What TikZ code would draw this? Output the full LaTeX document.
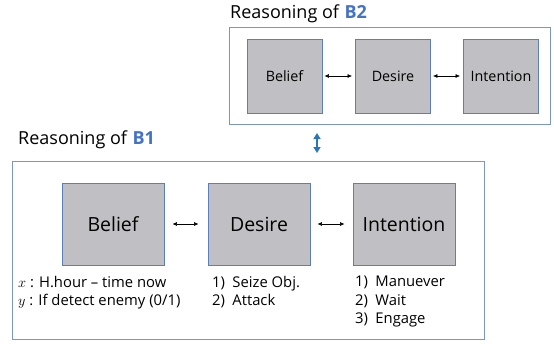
\documentclass[tikz,border=0pt]{standalone}
\usepackage{fontspec}
\setmainfont{Open Sans}
\usetikzlibrary{arrows.meta}
\definecolor{boxfill}{HTML}{BFBFC4}
\definecolor{boxline}{HTML}{5B7FBD}
\definecolor{frameline}{HTML}{7A96C8}
\definecolor{agentblue}{HTML}{4472C4}
\definecolor{linkblue}{HTML}{2E75B6}
\begin{document}
\begin{tikzpicture}[x=1pt,y=-1pt,
  frame/.style={draw=frameline,line width=0.9pt,inner sep=0pt},
  bdi/.style={draw=boxline,fill=boxfill,line width=0.9pt,inner sep=0pt},
  small/.style={bdi,minimum width=75pt,minimum height=74pt,font=\fontsize{14.3}{16}\selectfont},
  large/.style={bdi,minimum width=102pt,minimum height=82pt,font=\fontsize{19.5}{22}\selectfont},
  title/.style={anchor=west,inner sep=0pt,font=\fontsize{18}{20}\selectfont},
  notes/.style={anchor=north west,inner sep=0pt,align=left,font=\fontsize{14.8}{18.3}\selectfont},
  pair/.style={{Latex[length=4.5pt,width=4pt]}-{Latex[length=4.5pt,width=4pt]},line width=0.6pt}]
\useasboundingbox (0,0) rectangle (554,343);
\node[frame,minimum width=321pt,minimum height=97pt] (frameB) at (389.5,75.5) {};
\node[title] (titleB) at (230,14) {Reasoning of \textbf{\color{agentblue}B2}};
\node[small] (beliefB) at (284.5,76) {Belief};
\node[small] (desireB) at (393,76) {Desire};
\node[small] (intentB) at (501,76) {Intention};
\draw[pair,shorten <=2pt,shorten >=3pt] (beliefB) -- (desireB);
\draw[pair,shorten <=2pt,shorten >=3pt] (desireB) -- (intentB);
\node[frame,minimum width=472pt,minimum height=178pt] (frameA) at (248,250) {};
\node[title] (titleA) at (18,140) {Reasoning of \textbf{\color{agentblue}B1}};
\node[large] (beliefA) at (113,224) {Belief};
\node[large] (desireA) at (259,224) {Desire};
\node[large] (intentA) at (404,224) {Intention};
\draw[pair,shorten <=8pt,shorten >=9pt] (beliefA) -- (desireA);
\draw[pair,shorten <=7pt,shorten >=8pt] (desireA) -- (intentA);
\coordinate (linkB) at (317,133);
\coordinate (linkA) at (317,153);
\draw[{Triangle[length=6pt,width=7pt]}-{Triangle[length=6pt,width=7pt]},draw=linkblue,fill=linkblue,line width=2pt] (linkB) -- (linkA);
\node[notes] (beliefN) at (18,276) {$x$ : H.hour -- time now\\$y$ : If detect enemy (0/1)};
\node[notes] (desireN) at (212,276) {1)\enspace Seize Obj.\\2)\enspace Attack};
\node[notes] (intentN) at (355,276) {1)\enspace Manuever\\2)\enspace Wait\\3)\enspace Engage};
\end{tikzpicture}
\end{document}
